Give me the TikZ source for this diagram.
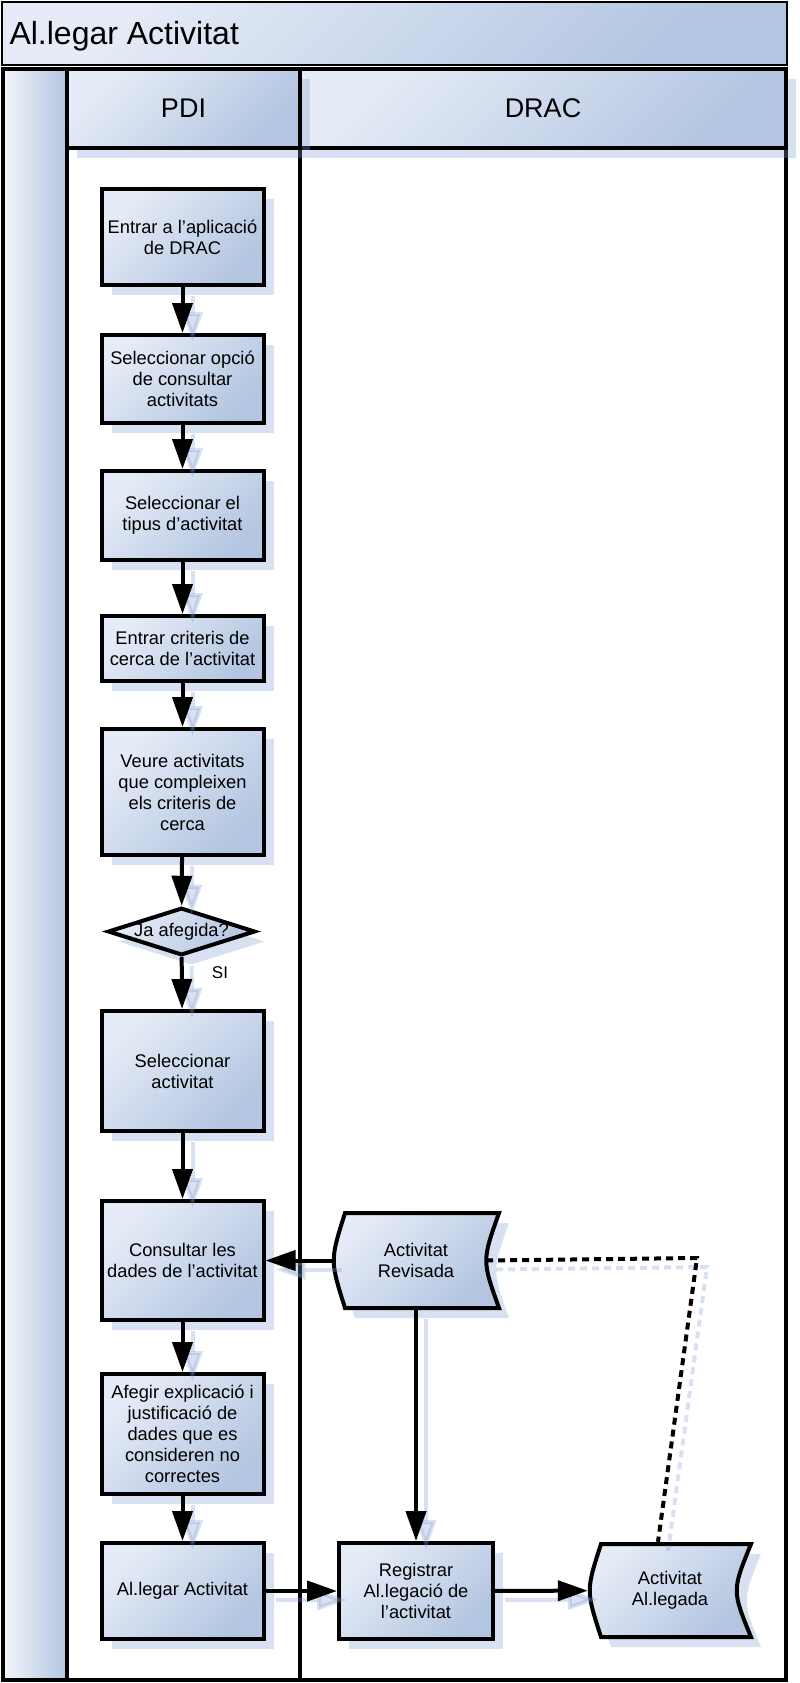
\documentclass[tikz,border=0pt]{standalone}
\usepackage{fontspec}
\setmainfont{Liberation Sans}
\usetikzlibrary{arrows.meta, shapes.geometric, shadows}
\definecolor{azulclaro}{HTML}{E6ECF7}
\definecolor{azulescuro}{HTML}{B3C5E1}
\definecolor{azulsombra}{HTML}{7F9CCF}

\begin{document}
\begin{tikzpicture}[x=1pt, y=-1pt,
    every node/.style={font=\fontsize{18.3}{21}\selectfont, align=center},
    >={Triangle[length=30pt, width=20pt]},
    sombra/.style={drop shadow={shadow xshift=10pt, shadow yshift=-10pt, fill=azulsombra, opacity=.3}},
    degrade/.style={top color=azulclaro, bottom color=azulescuro, shading angle=45},
    caixa/.style={draw, rectangle, line width=4pt, degrade, sombra, minimum width=162pt, inner sep=2pt},
    cabecalho/.style={draw, rectangle, line width=4pt, degrade, sombra, inner sep=0pt, minimum height=79pt, font=\fontsize{27}{31}\selectfont},
    seta/.style={->, line width=4pt, preaction={draw=azulsombra, line width=4pt, ->, opacity=.3, transform canvas={xshift=10pt, yshift=-9pt}}},
    pontilhado/.style={line width=4pt, dash pattern=on 7pt off 5pt, preaction={draw=azulsombra, line width=4pt, dash pattern=on 7pt off 5pt, opacity=.3, transform canvas={xshift=10pt, yshift=-9pt}}}]

    \useasboundingbox (0,0) rectangle (800,1683);

    % Título
    \draw[line width=2.5pt, degrade] (2,2) rectangle (787,65);
    \node[anchor=base west, font=\fontsize{32}{36}\selectfont] (titulo) at (6,45) {Al.legar Activitat};

    % Raias
    \draw[line width=4pt, left color=azulclaro!50!white, right color=azulescuro] (3,69) rectangle (67,1680);
    \draw[line width=4pt] (67,69) rectangle (300,1680);
    \draw[line width=4pt] (300,69) rectangle (786,1680);
    \node[cabecalho, minimum width=486pt] (drac) at (543,108.5) {DRAC};
    \node[cabecalho, minimum width=233pt] (pdi) at (183.5,108.5) {PDI};

    % Caixas do PDI
    \node[caixa, minimum height=96pt] (entrar) at (182.5,237) {Entrar a l’aplicació\\de DRAC};
    \node[caixa, minimum height=88pt] (opcio) at (182.5,379) {Seleccionar opció\\de consultar\\activitats};
    \node[caixa, minimum height=89pt] (tipus) at (182.5,515.5) {Seleccionar el\\tipus d’activitat};
    \node[caixa, minimum height=65pt] (criteris) at (182.5,648.5) {Entrar criteris de\\cerca de l’activitat};
    \node[caixa, minimum height=126pt] (veure) at (182.5,792) {Veure activitats\\que compleixen\\els criteris de\\cerca};
    \node[draw, diamond, line width=4pt, degrade, sombra, shape aspect=3.1, minimum width=147pt, minimum height=45pt, inner sep=0pt] (afegida) at (181.5,931.5) {Ja afegida?};
    \node[font=\fontsize{17}{20}\selectfont] (si) at (220,973) {SI};
    \node[caixa, minimum height=120pt] (selact) at (182.5,1071) {Seleccionar\\activitat};
    \node[caixa, minimum height=119pt] (consultar) at (182.5,1260.5) {Consultar les\\dades de l’activitat};
    \node[caixa, minimum height=120pt] (afegir) at (182.5,1434) {Afegir explicació i\\justificació de\\dades que es\\consideren no\\correctes};
    \node[caixa, minimum height=96pt] (allegar) at (182.5,1591) {Al.legar Activitat};

    % Dados do DRAC
    \draw[line width=4pt, degrade, sombra] (345,1213) -- (499,1213) .. controls (482,1260.5) .. (499,1308) -- (345,1308) .. controls (330,1260.5) .. cycle;
    \node[inner sep=0pt, minimum width=168pt, minimum height=99pt] (revisada) at (416,1260.5) {Activitat\\Revisada};
    \node[caixa, minimum width=154pt, minimum height=96pt] (registrar) at (416,1591) {Registrar\\Al.legació de\\l’activitat};
    \draw[line width=4pt, degrade, sombra] (601,1544) -- (751,1544) .. controls (732,1590.5) .. (751,1637) -- (601,1637) .. controls (586,1590.5) .. cycle;
    \node[inner sep=0pt, minimum width=164pt, minimum height=97pt] (alegada) at (670,1590.5) {Activitat\\Al.legada};

    % Conexões
    \draw[seta] (entrar) -- (opcio);
    \draw[seta] (opcio) -- (tipus);
    \draw[seta] (tipus) -- (criteris);
    \draw[seta] (criteris) -- (veure);
    \draw[seta] (veure) -- (afegida);
    \draw[seta] (afegida) -- (selact);
    \draw[seta] (selact) -- (consultar);
    \draw[seta] (consultar) -- (afegir);
    \draw[seta] (afegir) -- (allegar);
    \draw[seta] (revisada) -- (consultar);
    \draw[seta] (revisada) -- (registrar);
    \draw[seta] (allegar) -- (registrar);
    \draw[seta] (registrar) -- (alegada);

    % Ligação pontilhada
    \coordinate (dobra) at (697,1258);
    \draw[pontilhado] ([xshift=-14pt]revisada.east) -- (dobra) -- ([xshift=-12pt]alegada.north);

\end{tikzpicture}
\end{document}
